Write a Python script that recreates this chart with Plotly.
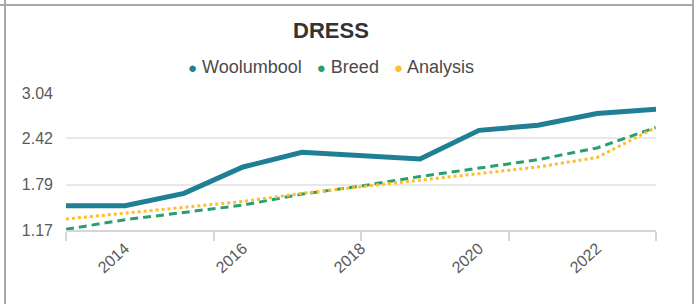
import plotly.graph_objects as go

years = [2013, 2014, 2015, 2016, 2017, 2018, 2019, 2020, 2021, 2022, 2023]
series_names = ["Woolumbool", "Breed", "Analysis"]
woolumbool = [1.50, 1.50, 1.67, 2.03, 2.23, 2.18, 2.14, 2.53, 2.60, 2.76, 2.82]
breed = [1.18, 1.31, 1.41, 1.51, 1.66, 1.77, 1.90, 2.01, 2.13, 2.29, 2.57]
analysis = [1.32, 1.40, 1.47, 1.56, 1.67, 1.76, 1.85, 1.93, 2.03, 2.16, 2.57]
y_ticks = [1.17, 1.79, 2.42, 3.04]
x_ticks = [2014, 2016, 2018, 2020, 2022]
x_minor = [2013, 2015.5, 2018, 2020.5, 2023]

colors = {"Woolumbool": "#1f7f95", "Breed": "#27a06e", "Analysis": "#fbc02d"}

W, H = 698, 304
L, R, T, B = 66, 656, 93, 230  # plot area pixel edges

def px(xp):
    return (xp - L) / (R - L)

def py(yp):
    return (B - yp) / (B - T)

fig = go.Figure()
fig.add_trace(go.Scatter(x=years, y=breed, mode="lines", name=series_names[1],
                         line=dict(color=colors["Breed"], width=3, dash="8px,5px"),
                         showlegend=False))
fig.add_trace(go.Scatter(x=years, y=analysis, mode="lines", name=series_names[2],
                         line=dict(color=colors["Analysis"], width=3, dash="3px,3px"),
                         showlegend=False))
fig.add_trace(go.Scatter(x=years, y=woolumbool, mode="lines", name=series_names[0],
                         line=dict(color=colors["Woolumbool"], width=5),
                         showlegend=False))

font_family = "Liberation Sans, Arial, sans-serif"

legend_parts = []
for n in series_names:
    legend_parts.append(
        f"<span style='color:{colors[n]};font-size:15px'>●</span> {n}")
legend_text = "&nbsp;&nbsp;&nbsp;".join(legend_parts)

fig.update_layout(
    width=W, height=H,
    margin=dict(l=L, r=W - R, t=T, b=H - B),
    paper_bgcolor="white", plot_bgcolor="white",
    showlegend=False,
    title=dict(text="<b>DRESS</b>", x=px(331), xref="paper", xanchor="center",
               y=1 - 30 / H, yref="container", yanchor="middle",
               font=dict(family=font_family, size=22, color="#333333")),
    xaxis=dict(range=[2013, 2023], tickmode="array", tickvals=x_ticks,
               ticktext=[str(v) for v in x_ticks], tickangle=-42,
               ticks="outside", ticklen=1, tickcolor="rgba(0,0,0,0)",
               showgrid=False, zeroline=False,
               showline=True, linecolor="#d6d6d6", linewidth=2,
               tickfont=dict(family=font_family, size=16, color="#5a5a5a"),
               minor=dict(tickmode="array", tickvals=x_minor, ticks="outside",
                          ticklen=9, tickcolor="#d6d6d6", tickwidth=2, showgrid=False)),
    yaxis=dict(range=[1.17, 3.04], tickmode="array", tickvals=y_ticks,
               ticktext=[f"{v:.2f}" for v in y_ticks],
               showgrid=True, gridcolor="#e8e8e8", gridwidth=2,
               zeroline=False, showline=False, ticks="", ticklabelstandoff=12,
               tickfont=dict(family=font_family, size=16, color="#5a5a5a")),
    annotations=[dict(text=legend_text, x=px(331), y=py(67), xref="paper", yref="paper",
                      xanchor="center", yanchor="middle", showarrow=False,
                      font=dict(family=font_family, size=18, color="#4a4a4a"))],
    shapes=[
        dict(type="line", xref="paper", yref="paper", x0=px(0), x1=px(693), y0=py(5), y1=py(5),
             line=dict(color="#a8a8a8", width=2)),
        dict(type="line", xref="paper", yref="paper", x0=px(5), x1=px(5), y0=py(0), y1=py(304),
             line=dict(color="#a8a8a8", width=2)),
        dict(type="line", xref="paper", yref="paper", x0=px(693), x1=px(693), y0=py(0), y1=py(304),
             line=dict(color="#a8a8a8", width=2)),
    ],
)

fig.write_html("out.html", config={"displayModeBar": False},
               post_script="document.body.style.margin='0';document.body.style.overflow='hidden';")
